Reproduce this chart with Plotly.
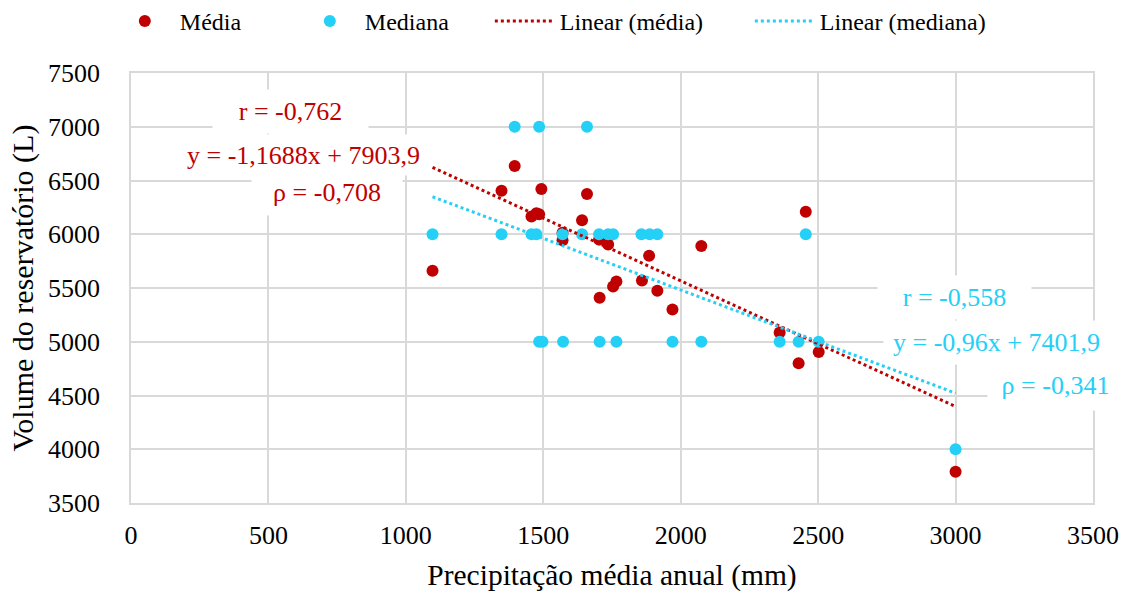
import plotly.graph_objects as go

# ---- data ----
media_x = [1097, 1348, 1396, 1457, 1475, 1485, 1493, 1570, 1570, 1641, 1659, 1703, 1705,
           1736, 1754, 1766, 1859, 1885, 1915, 1970, 2075, 2360, 2429, 2455, 2502, 3000]
media_y = [5660, 6405, 6635, 6165, 6195, 6185, 6420, 6015, 5945, 6130, 6375, 5950, 5410,
           5905, 5515, 5560, 5570, 5800, 5475, 5300, 5890, 5085, 4800, 6210, 4905, 3790]

mediana_x = [1097, 1348, 1396, 1457, 1475, 1485, 1485, 1497, 1570, 1572, 1641, 1659, 1703, 1705,
             1736, 1754, 1766, 1857, 1887, 1915, 1970, 2075, 2360, 2429, 2455, 2502, 3000]
mediana_y = [6000, 6000, 7000, 6000, 6000, 7000, 5000, 5000, 6000, 5000, 6000, 7000, 6000, 5000,
             6000, 6000, 5000, 6000, 6000, 6000, 5000, 5000, 5000, 5000, 6000, 5000, 4000]

# trend-line coefficients (from the chart's labels)
slope_media, icpt_media = -1.1688, 7903.9
slope_mediana, icpt_mediana = -0.96, 7401.9

stats_media = ["r = -0,762", "y = -1,1688x + 7903,9", "ρ = -0,708"]
stats_mediana = ["r = -0,558", "y = -0,96x + 7401,9", "ρ = -0,341"]

x_ticks = [0, 500, 1000, 1500, 2000, 2500, 3000, 3500]
y_ticks = [3500, 4000, 4500, 5000, 5500, 6000, 6500, 7000, 7500]

RED = "#c00000"
CYAN = "#25d0f7"
FONT = "Liberation Serif, Times New Roman, DejaVu Serif, serif"

fig = go.Figure()
fig.add_trace(go.Scatter(x=media_x, y=media_y, mode="markers", name="Média",
                         marker=dict(color=RED, size=12), legendwidth=110))
fig.add_trace(go.Scatter(x=mediana_x, y=mediana_y, mode="markers", name="Mediana",
                         marker=dict(color=CYAN, size=12), legendwidth=120))

xmin_m, xmax_m = min(media_x), max(media_x)
fig.add_trace(go.Scatter(x=[xmin_m, xmax_m],
                         y=[slope_media * xmin_m + icpt_media, slope_media * xmax_m + icpt_media],
                         mode="lines", name="Linear (média)",
                         line=dict(color=RED, width=3, dash="dot"), legendwidth=185))
xmin_d, xmax_d = min(mediana_x), max(mediana_x)
fig.add_trace(go.Scatter(x=[xmin_d, xmax_d],
                         y=[slope_mediana * xmin_d + icpt_mediana, slope_mediana * xmax_d + icpt_mediana],
                         mode="lines", name="Linear (mediana)",
                         line=dict(color=CYAN, width=3, dash="dot"), legendwidth=190))

# statistic labels (white text boxes, as in the reference)
red_pos = [(580, 7140), (626, 6737), (713, 6385)]
red_box = [(155, 43), (255, 40), (150, 45)]
cyan_pos = [(2996, 5415), (3149, 4990), (3364, 4595)]
cyan_box = [(153, 43), (225, 43), (135, 50)]
for txt, (ax, ay), (bw, bh) in zip(stats_media, red_pos, red_box):
    fig.add_annotation(x=ax, y=ay, text=txt, showarrow=False, bgcolor="white",
                       width=bw, height=bh, borderpad=0,
                       font=dict(family=FONT, size=26, color=RED))
for txt, (ax, ay), (bw, bh) in zip(stats_mediana, cyan_pos, cyan_box):
    fig.add_annotation(x=ax, y=ay, text=txt, showarrow=False, bgcolor="white",
                       width=bw, height=bh, borderpad=0,
                       font=dict(family=FONT, size=26, color=CYAN))

axis_common = dict(showgrid=True, gridcolor="#d9d9d9", gridwidth=1.5, zeroline=False,
                   showline=True, linecolor="#d9d9d9", linewidth=1.5, mirror=True,
                   ticks="", tickfont=dict(family=FONT, size=26, color="black"))

fig.update_xaxes(range=[0, 3500], tickvals=x_ticks, ticktext=[str(v) for v in x_ticks],
                 title=dict(text="Precipitação média anual (mm)", standoff=21,
                            font=dict(family=FONT, size=29.5, color="black")),
                 ticklabelstandoff=8, **axis_common)
fig.update_yaxes(range=[3500, 7500], tickvals=y_ticks, ticktext=[str(v) for v in y_ticks],
                 title=dict(text="Volume do reservatório (L)", standoff=6,
                            font=dict(family=FONT, size=30, color="black")),
                 ticklabelstandoff=24, **axis_common)

fig.update_layout(
    width=1133, height=592,
    margin=dict(l=131, r=40, t=73, b=89, autoexpand=False),
    plot_bgcolor="white", paper_bgcolor="white",
    font=dict(family=FONT, size=24, color="black"),
    legend=dict(orientation="h", x=-0.022, xanchor="left", y=1.12, yanchor="middle",
                itemwidth=60, font=dict(family=FONT, size=24, color="black"),
                bgcolor="rgba(0,0,0,0)"),
    showlegend=True,
)

fig.write_html("out.html", config={"displayModeBar": False},
               post_script="document.body.style.margin='0';document.body.style.overflow='hidden';")
